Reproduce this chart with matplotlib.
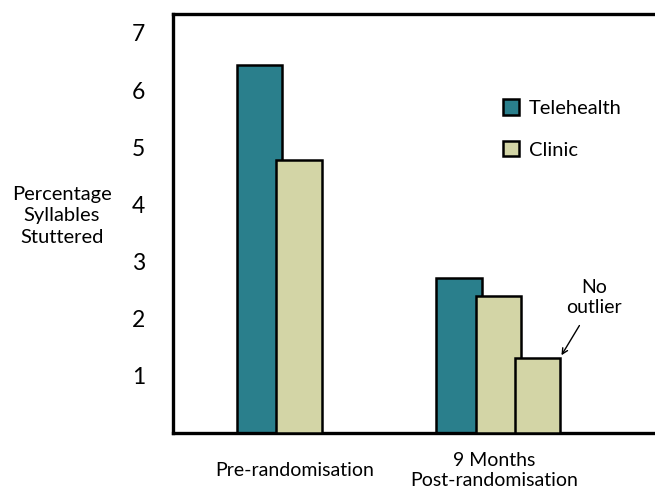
import matplotlib.pyplot as plt
import numpy as np

# values
groups = ["Pre-randomisation", "9 Months\nPost-randomisation"]
telehealth = [6.44, 2.72]
clinic = [4.78, 2.39]
clinic_no_outlier = 1.31
y_ticks = [1, 2, 3, 4, 5, 6, 7]

teal = "#2a7f8c"
sand = "#d3d5a6"

plt.rcParams["font.family"] = ["Lato", "DejaVu Sans"]

fig = plt.figure(figsize=(6.55, 4.91), dpi=100)
ax = fig.add_axes([173 / 655, 58 / 491, 1.02 - 173 / 655, 419 / 491])

x = np.arange(len(groups))
width = 0.228
step = 0.198

ax.bar(x, telehealth, width, color=teal, edgecolor="black", linewidth=1.8,
       align="center", label="Telehealth", zorder=2)
ax.bar(x + step, clinic, width, color=sand, edgecolor="black", linewidth=1.8,
       align="center", label="Clinic", zorder=3)
ax.bar(x[1] + 2 * step, clinic_no_outlier, width, color=sand,
       edgecolor="black", linewidth=1.8, zorder=4)

ax.set_xlim(-0.434, 2.05)
ax.set_ylim(0, 7.33)

ax.set_yticks(y_ticks)
ax.set_yticklabels([str(t) for t in y_ticks], fontsize=16.5)
ax.tick_params(axis="y", length=0, pad=20)

ax.set_xticks(x + 0.175)
ax.set_xticklabels(groups, fontsize=14, linespacing=1.25, va="center")
ax.tick_params(axis="x", length=0, pad=27)

for side in ["left", "top", "bottom"]:
    ax.spines[side].set_linewidth(2.4)
ax.spines["right"].set_visible(False)

fig.text(62 / 655, 1 - 216 / 491, "Percentage\nSyllables\nStuttered",
         ha="center", va="center", fontsize=14.5, linespacing=1.3)

ax.legend(loc="upper left", bbox_to_anchor=(0.63, 0.84), frameon=False,
          fontsize=14.5, handlelength=0.8, handleheight=0.8,
          handletextpad=0.5, labelspacing=1.2)

# "No outlier" note with arrow pointing at the third bar
bar_edge = x[1] + 2 * step + width / 2
ax.text(bar_edge + 0.17, 2.37, "No\noutlier", ha="center", va="center",
        fontsize=14, linespacing=1.2)
ax.annotate("", xy=(bar_edge + 0.005, clinic_no_outlier + 0.05),
            xytext=(bar_edge + 0.095, 1.88),
            arrowprops=dict(arrowstyle="->", color="black", lw=1.0,
                            shrinkA=0, shrinkB=0))

fig.savefig("out.png", dpi=100)
